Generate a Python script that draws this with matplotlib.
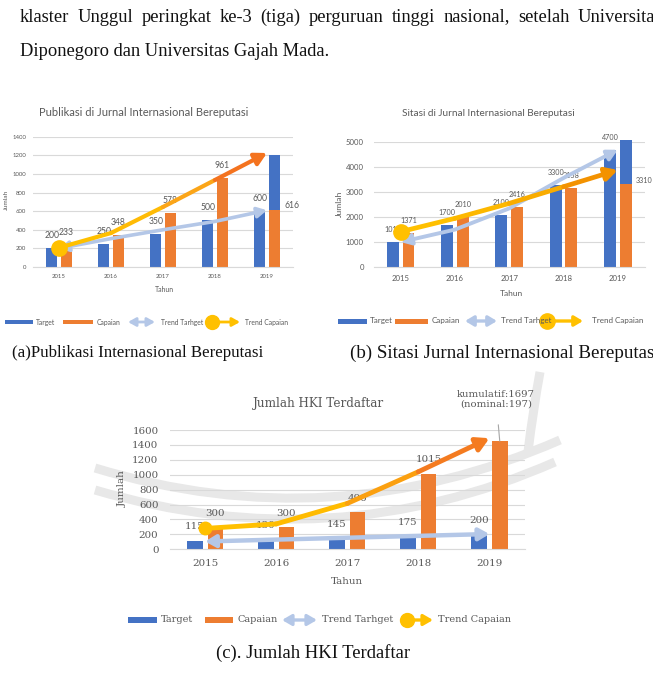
import numpy as np
import matplotlib
matplotlib.use("Agg")
import matplotlib.pyplot as plt
from matplotlib.patches import FancyArrowPatch, Rectangle, PathPatch
from matplotlib.path import Path
from matplotlib.collections import LineCollection

W, H = 653, 680

# ---------------- data ----------------
years = ["2015", "2016", "2017", "2018", "2019"]

target_a = [200, 250, 350, 500, 600]
capaian_a = [233, 348, 578, 961, 616]
extra_a = [0, 0, 0, 0, 584]          # blue block stacked on the 2019 capaian bar
trend_target_a = [200, 305, 400, 490, 610]
trend_capaian_a = [207, 365, 645, 935, 1225]
yticks_a = [0, 200, 400, 600, 800, 1000, 1200, 1400]

target_b = [1010, 1700, 2100, 3300, 4700]
capaian_b = [1371, 2010, 2416, 3158, 3310]
extra_b = [0, 0, 0, 0, 1790]
trend_target_b = [1000, 1500, 2350, 3570, 4700]
trend_capaian_b = [1416, 1950, 2550, 3220, 3890]
yticks_b = [0, 1000, 2000, 3000, 4000, 5000]

target_c = [115, 130, 145, 175, 200]
capaian_c = [300, 300, 496, 1015, 1450]
capaian_c_labels = ["300", "300", "496", "1015", ""]
trend_target_c = [105, 130, 155, 180, 205]
trend_capaian_c = [280, 340, 615, 1040, 1490]
yticks_c = [0, 200, 400, 600, 800, 1000, 1200, 1400, 1600]

legend_labels = ["Target", "Capaian", "Trend Tarhget", "Trend Capaian"]

BLUE = "#4472C4"
ORANGE = "#ED7D31"
LBLUE = "#B4C7E7"
YELLOW = "#FFC000"
GREY = "#595959"
GRID = "#d9d9d9"
WM = "#e8e8e8"
SANS = "Lato"
SERIF = "DejaVu Serif"
BODY = "Liberation Serif"

fig = plt.figure(figsize=(W / 100, H / 100), dpi=100)
fig.patch.set_facecolor("white")
renderer = fig.canvas.get_renderer()

bg = fig.add_axes([0, 0, 1, 1], zorder=0)
bg.set_xlim(0, W)
bg.set_ylim(H, 0)
bg.axis("off")


def fs_for(s, width, family, base=10):
    t = fig.text(0, 0, s, fontsize=base, family=family)
    w = t.get_window_extent(renderer).width
    t.remove()
    return base * width / w


def btext(x, y, s, fs, family, color=GREY, ha="left", va="center", rot=0):
    bg.text(x, y, s, fontsize=fs, family=family, color=color, ha=ha, va=va,
            rotation=rot)


def wm_curve(p0, c, p2, lw):
    bg.add_patch(PathPatch(Path([p0, c, p2], [Path.MOVETO, Path.CURVE3, Path.CURVE3]),
                           fill=False, ec=WM, lw=lw, capstyle="butt"))


# ---------------- faint watermark bands (decoration) ----------------
wm_curve((95, 468), (332, 540), (560, 440), 6.5)
wm_curve((95, 490), (332, 560), (555, 462), 6.5)
wm_curve((528, 452), (533, 410), (540, 372), 6.5)


def make_axes(x0, x1, ytop, ybot, ymax, yticks, tick_fs, family, ypad, xpad):
    ax = fig.add_axes([x0 / W, 1 - ybot / H, (x1 - x0) / W, (ybot - ytop) / H], zorder=2)
    ax.patch.set_alpha(0)
    for s in ["top", "right", "left"]:
        ax.spines[s].set_visible(False)
    ax.spines["bottom"].set_color(GRID)
    ax.spines["bottom"].set_linewidth(0.8)
    ax.set_ylim(0, ymax)
    ax.set_xlim(-0.5, 4.5)
    ax.set_yticks(yticks)
    ax.set_yticklabels([str(v) for v in yticks])
    ax.set_xticks(range(len(years)))
    ax.set_xticklabels(years)
    ax.yaxis.grid(True, color=GRID, lw=0.8)
    ax.set_axisbelow(True)
    ax.tick_params(axis="y", length=0, pad=ypad, labelsize=tick_fs, labelcolor=GREY)
    ax.tick_params(axis="x", length=0, pad=xpad, labelsize=tick_fs, labelcolor=GREY)
    for lab in ax.get_xticklabels() + ax.get_yticklabels():
        lab.set_family(family)
    return ax


def bars(ax, tgt, cap, extra, bw, off, lab_fs, family, dy, cap_labels=None,
         last_right=False):
    x = np.arange(len(tgt))
    ax.bar(x - off, tgt, width=bw, color=BLUE, zorder=2)
    ax.bar(x + off, cap, width=bw, color=ORANGE, zorder=2)
    if extra is not None:
        ax.bar(x + off, extra, bottom=cap, width=bw, color=BLUE, zorder=2, clip_on=False)
    for i in range(len(tgt)):
        ax.annotate(str(tgt[i]), (x[i] - off, tgt[i]), xytext=(0, dy),
                    textcoords="offset points", ha="center", va="center",
                    fontsize=lab_fs, family=family, color=GREY, zorder=3,
                    annotation_clip=False)
        lab = str(cap[i]) if cap_labels is None else cap_labels[i]
        if not lab:
            continue
        if last_right and i == len(tgt) - 1:
            ax.annotate(lab, (x[i] + off + bw / 2, cap[i]), xytext=(3, 3),
                        textcoords="offset points", ha="left", va="center",
                        fontsize=lab_fs, family=family, color=GREY, zorder=3,
                        annotation_clip=False)
        else:
            ax.annotate(lab, (x[i] + off, cap[i]), xytext=(0, dy),
                        textcoords="offset points", ha="center", va="center",
                        fontsize=lab_fs, family=family, color=GREY, zorder=3,
                        annotation_clip=False)


def trend_target(ax, ys, lw, hl, hw):
    xs = np.arange(len(ys))
    arr = FancyArrowPatch(path=Path(np.column_stack([xs, ys])),
                          arrowstyle=f"<|-|>,head_length={hl},head_width={hw}",
                          mutation_scale=10, color=LBLUE, lw=lw, zorder=4,
                          joinstyle="round", capstyle="round")
    ax.add_patch(arr)


def trend_capaian(ax, ys, lw, colors, head_color, hl, hw, ms):
    xs = np.arange(len(ys))
    pts = np.column_stack([xs, ys])
    segs = [pts[i:i + 2] for i in range(len(pts) - 2)]
    lc = LineCollection(segs, colors=colors[:len(segs)], linewidths=lw,
                        capstyle="round", joinstyle="round", zorder=5)
    ax.add_collection(lc)
    arr = FancyArrowPatch(tuple(pts[-2]), tuple(pts[-1]),
                          arrowstyle=f"-|>,head_length={hl},head_width={hw}",
                          mutation_scale=10, color=head_color, lw=lw,
                          shrinkA=0, shrinkB=0, zorder=5, capstyle="round")
    ax.add_patch(arr)
    ax.plot(xs[0], ys[0], "o", ms=ms, color=YELLOW, zorder=6)


def legend_row(y, xs, fs, family, ph, lw, ms, hl, hw):
    (p1a, p1b), t1, (p2a, p2b), t2, (i0, i1), t3, (c0, c1), t4 = xs
    bg.add_patch(Rectangle((p1a, y - ph / 2), p1b - p1a, ph, color=BLUE, lw=0))
    btext(t1, y, legend_labels[0], fs, family)
    bg.add_patch(Rectangle((p2a, y - ph / 2), p2b - p2a, ph, color=ORANGE, lw=0))
    btext(t2, y, legend_labels[1], fs, family)
    bg.add_patch(FancyArrowPatch((i0, y), (i1, y),
                                 arrowstyle=f"<|-|>,head_length={hl},head_width={hw}",
                                 mutation_scale=10, color=LBLUE, lw=lw,
                                 shrinkA=0, shrinkB=0))
    btext(t3, y, legend_labels[2], fs, family)
    bg.add_patch(FancyArrowPatch((c0, y), (c1, y),
                                 arrowstyle=f"-|>,head_length={hl},head_width={hw}",
                                 mutation_scale=10, color=YELLOW, lw=lw,
                                 shrinkA=0, shrinkB=0))
    bg.plot([c0], [y], "o", ms=ms, color=YELLOW)
    btext(t4, y, legend_labels[3], fs, family)


# ---------------- body text ----------------
fs_body = fs_for("Diponegoro dan Universitas Gajah Mada.", 310, BODY)
line1 = "klaster Unggul peringkat ke-3 (tiga) perguruan tinggi nasional, setelah Universitas".split()
widths = []
for wd in line1:
    t = fig.text(0, 0, wd, fontsize=fs_body, family=BODY)
    widths.append(t.get_window_extent(renderer).width)
    t.remove()
x_start, x_end = 20, 662
gap = (x_end - x_start - sum(widths)) / (len(line1) - 1)
xx = x_start
for wd, wdt in zip(line1, widths):
    btext(xx, 17, wd, fs_body, BODY, color="#111111")
    xx += wdt + gap
btext(20, 52, "Diponegoro dan Universitas Gajah Mada.", fs_body, BODY, color="#111111")

# ---------------- chart (a) ----------------
ax_a = make_axes(33, 293, 136.7, 267, 1400, yticks_a,
                 fs_for("1400", 14, SANS), SANS, 5, 5)
lab_a = fs_for("961", 15, SANS)
bars(ax_a, target_a, capaian_a, extra_a, 0.22, 0.14, lab_a, SANS, 9, last_right=True)
trend_target(ax_a, trend_target_a, 2.6, 0.55, 0.3)
trend_capaian(ax_a, trend_capaian_a, 3.0,
              ["#FFC000", "#FFBB05", "#FBA518"], "#F4731F", 0.7, 0.38, 11)
btext(144, 112, "Publikasi di Jurnal Internasional Bereputasi",
      fs_for("Publikasi di Jurnal Internasional Bereputasi", 208, SANS), SANS, ha="center")
btext(164, 290, "Tahun", fs_for("Tahun", 19, SANS), SANS, ha="center")
btext(6, 200, "Jumlah", fs_for("Jumlah", 20, SANS), SANS, ha="center", rot=90)
fs_leg_a = fs_for("Trend Capaian", 43, SANS)
legend_row(322, [(5, 33), 36, (63, 93), 97, (128, 155), 161, (212, 240), 245],
           fs_leg_a, SANS, 3.5, 2.0, 10, 0.45, 0.25)

# ---------------- chart (b) ----------------
ax_b = make_axes(373.5, 645, 142.3, 267, 5000, yticks_b,
                 fs_for("5000", 18, SANS), SANS, 7, 6)
lab_b = fs_for("2416", 17, SANS)
bars(ax_b, target_b, capaian_b, extra_b, 0.22, 0.145, lab_b, SANS, 9, last_right=True)
trend_target(ax_b, trend_target_b, 2.8, 0.6, 0.32)
trend_capaian(ax_b, trend_capaian_b, 3.4,
              ["#FFC000", "#FDB800", "#F9AC00"], "#F39200", 0.7, 0.38, 11)
btext(488, 114, "Sitasi di Jurnal Internasional Bereputasi",
      fs_for("Sitasi di Jurnal Internasional Bereputasi", 172, SANS), SANS, ha="center")
btext(511, 294, "Tahun", fs_for("Tahun", 23, SANS), SANS, ha="center")
btext(339, 204, "Jumlah", fs_for("Jumlah", 26, SANS), SANS, ha="center", rot=90)
fs_leg_b = fs_for("Trend Capaian", 51, SANS)
legend_row(321, [(338, 367), 370, (395, 428), 432, (465, 497), 501, (547, 583), 592],
           fs_leg_b, SANS, 5, 2.4, 11, 0.5, 0.3)

# ---------------- chart (c) ----------------
ax_c = make_axes(169.5, 525, 430, 549.3, 1600, yticks_c,
                 fs_for("1600", 26, SERIF), SERIF, 8, 7)
lab_c = fs_for("1015", 26, SERIF)
bars(ax_c, target_c, capaian_c, None, 0.22, 0.145, lab_c, SERIF, 10,
     cap_labels=capaian_c_labels)
trend_target(ax_c, trend_target_c, 3.2, 0.6, 0.35)
trend_capaian(ax_c, trend_capaian_c, 3.5,
              ["#FFC000", "#FFBB00", "#FBA010"], "#F47B20", 0.75, 0.42, 9)
ann_fs = fs_for("kumulatif:1697", 79, SERIF)
ax_c.annotate("kumulatif:1697\n(nominal:197)", xy=(4 + 0.145, capaian_c[4]),
              xytext=(496, 399), textcoords=bg.transData,
              ha="center", va="center", fontsize=ann_fs, family=SERIF, color=GREY,
              linespacing=1.05,
              arrowprops=dict(arrowstyle="-", color="#a6a6a6", lw=0.8,
                              shrinkA=10, shrinkB=0),
              annotation_clip=False, zorder=6)
btext(318, 403, "Jumlah HKI Terdaftar",
      fs_for("Jumlah HKI Terdaftar", 130, SERIF), SERIF, ha="center")
btext(347, 582, "Tahun", fs_for("Tahun", 32, SERIF), SERIF, ha="center")
btext(122, 489, "Jumlah", fs_for("Jumlah", 37, SERIF), SERIF, ha="center", rot=90)
fs_leg_c = fs_for("Trend Capaian", 74, SERIF)
legend_row(620, [(128, 157), 161, (205, 233), 237, (282, 317), 322, (407, 433), 438],
           fs_leg_c, SERIF, 6, 2.4, 10, 0.55, 0.32)

# ---------------- captions ----------------
fs_cap = fs_for("(a)Publikasi Internasional Bereputasi", 250, BODY)
btext(12, 353, "(a)Publikasi Internasional Bereputasi", fs_cap, BODY, color="#111111")
btext(350, 353, "(b) Sitasi Jurnal Internasional Bereputasi",
      fs_for("(b) Sitasi Jurnal Internasional Bereputasi", 310, BODY), BODY, color="#111111")
btext(216, 653, "(c). Jumlah HKI Terdaftar",
      fs_for("(c). Jumlah HKI Terdaftar", 194, BODY), BODY, color="#111111")

fig.savefig("out.png", dpi=100, facecolor="white")
